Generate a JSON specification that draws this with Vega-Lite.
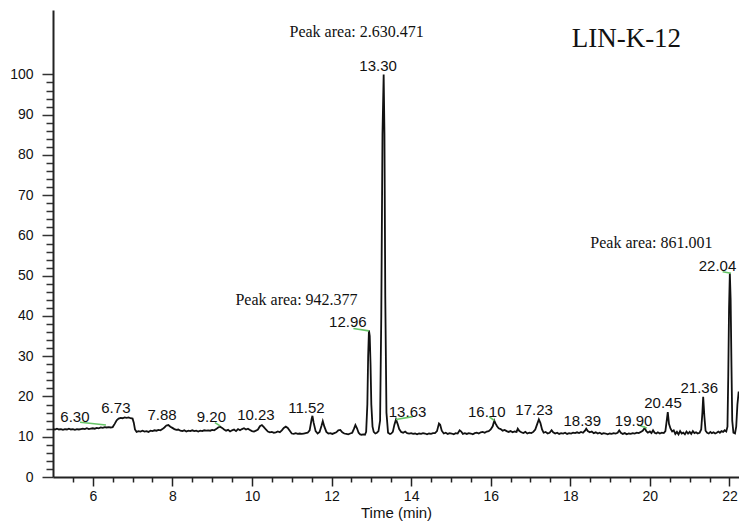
{
  "$schema": "https://vega.github.io/schema/vega-lite/v6.json",
  "width": 686,
  "height": 467,
  "autosize": {"type": "none"},
  "padding": {"left": 53, "top": 10, "right": 0, "bottom": 47},
  "background": "white",
  "config": {
    "view": {"stroke": null},
    "axis": {"grid": false, "labelFont": "Liberation Sans", "titleFont": "Liberation Sans"}
  },
  "datasets": {
    "trace": [
      {"t":5.00,"r":11.9},{"t":5.05,"r":11.8},{"t":5.10,"r":12.0},{"t":5.15,"r":11.8},{"t":5.20,"r":11.9},{"t":5.25,"r":11.7},{"t":5.30,"r":11.9},{"t":5.35,"r":11.8},{"t":5.40,"r":12.0},{"t":5.45,"r":11.8},
      {"t":5.50,"r":11.9},{"t":5.55,"r":11.7},{"t":5.60,"r":11.9},{"t":5.65,"r":11.8},{"t":5.70,"r":11.9},{"t":5.75,"r":12.0},{"t":5.80,"r":11.9},{"t":5.85,"r":12.1},{"t":5.90,"r":11.9},{"t":5.95,"r":12.0},
      {"t":6.00,"r":12.1},{"t":6.05,"r":12.0},{"t":6.10,"r":12.2},{"t":6.15,"r":12.1},{"t":6.20,"r":12.3},{"t":6.25,"r":12.2},{"t":6.30,"r":12.4},{"t":6.35,"r":12.3},{"t":6.40,"r":12.4},{"t":6.45,"r":12.3},
      {"t":6.50,"r":12.4},{"t":6.55,"r":13.2},{"t":6.60,"r":14.1},{"t":6.65,"r":14.5},{"t":6.70,"r":14.7},{"t":6.75,"r":14.6},{"t":6.80,"r":14.8},{"t":6.85,"r":14.7},{"t":6.90,"r":14.8},{"t":6.95,"r":14.6},
      {"t":7.00,"r":14.5},{"t":7.03,"r":13.5},{"t":7.06,"r":11.8},{"t":7.10,"r":11.2},{"t":7.15,"r":11.4},{"t":7.20,"r":11.3},{"t":7.25,"r":11.5},{"t":7.30,"r":11.3},{"t":7.35,"r":11.4},{"t":7.40,"r":11.2},
      {"t":7.45,"r":11.5},{"t":7.50,"r":11.4},{"t":7.55,"r":11.6},{"t":7.60,"r":11.5},{"t":7.65,"r":11.7},{"t":7.70,"r":11.6},{"t":7.75,"r":11.9},{"t":7.80,"r":12.3},{"t":7.85,"r":12.8},{"t":7.90,"r":12.9},
      {"t":7.95,"r":12.5},{"t":8.00,"r":12.2},{"t":8.05,"r":11.9},{"t":8.10,"r":11.7},{"t":8.15,"r":11.8},{"t":8.20,"r":11.5},{"t":8.25,"r":11.4},{"t":8.30,"r":11.6},{"t":8.35,"r":11.3},{"t":8.40,"r":11.5},
      {"t":8.45,"r":11.4},{"t":8.50,"r":11.6},{"t":8.55,"r":11.4},{"t":8.60,"r":11.5},{"t":8.65,"r":11.3},{"t":8.70,"r":11.5},{"t":8.75,"r":11.4},{"t":8.80,"r":11.6},{"t":8.85,"r":11.5},{"t":8.90,"r":11.6},
      {"t":8.95,"r":11.5},{"t":9.00,"r":11.7},{"t":9.05,"r":11.6},{"t":9.10,"r":11.9},{"t":9.15,"r":12.3},{"t":9.20,"r":12.5},{"t":9.25,"r":12.2},{"t":9.30,"r":11.8},{"t":9.35,"r":11.5},{"t":9.40,"r":11.7},
      {"t":9.45,"r":11.3},{"t":9.50,"r":11.6},{"t":9.55,"r":11.8},{"t":9.60,"r":11.4},{"t":9.65,"r":11.9},{"t":9.70,"r":11.6},{"t":9.75,"r":11.9},{"t":9.80,"r":12.1},{"t":9.85,"r":11.8},{"t":9.90,"r":12.0},
      {"t":9.95,"r":11.7},{"t":10.00,"r":11.4},{"t":10.05,"r":11.3},{"t":10.10,"r":11.5},{"t":10.15,"r":11.8},{"t":10.20,"r":12.6},{"t":10.25,"r":12.9},{"t":10.30,"r":12.4},{"t":10.35,"r":11.8},{"t":10.40,"r":11.3},
      {"t":10.45,"r":11.1},{"t":10.50,"r":11.2},{"t":10.55,"r":11.0},{"t":10.60,"r":11.1},{"t":10.65,"r":11.3},{"t":10.70,"r":11.1},{"t":10.75,"r":11.6},{"t":10.80,"r":12.2},{"t":10.85,"r":12.5},{"t":10.90,"r":12.2},
      {"t":10.95,"r":11.5},{"t":11.00,"r":10.8},{"t":11.05,"r":10.7},{"t":11.10,"r":10.9},{"t":11.15,"r":10.7},{"t":11.20,"r":10.8},{"t":11.25,"r":10.7},{"t":11.30,"r":10.8},{"t":11.35,"r":10.9},{"t":11.40,"r":11.0},
      {"t":11.45,"r":11.6},{"t":11.50,"r":14.4},{"t":11.52,"r":15.2},{"t":11.55,"r":13.5},{"t":11.60,"r":11.4},{"t":11.65,"r":10.8},{"t":11.70,"r":11.2},{"t":11.75,"r":12.8},{"t":11.78,"r":13.9},{"t":11.82,"r":12.5},
      {"t":11.87,"r":11.2},{"t":11.92,"r":10.8},{"t":11.97,"r":10.9},{"t":12.02,"r":10.7},{"t":12.07,"r":10.9},{"t":12.12,"r":11.1},{"t":12.17,"r":11.6},{"t":12.22,"r":11.7},{"t":12.27,"r":11.1},{"t":12.32,"r":10.8},
      {"t":12.37,"r":10.7},{"t":12.42,"r":10.6},{"t":12.47,"r":10.8},{"t":12.52,"r":11.0},{"t":12.56,"r":11.9},{"t":12.60,"r":12.9},{"t":12.64,"r":12.1},{"t":12.68,"r":11.0},{"t":12.72,"r":10.6},{"t":12.76,"r":10.5},
      {"t":12.80,"r":10.6},{"t":12.84,"r":10.5},{"t":12.87,"r":11.2},{"t":12.90,"r":18.0},{"t":12.92,"r":30.0},{"t":12.94,"r":36.4},{"t":12.96,"r":35.0},{"t":12.98,"r":28.0},{"t":13.00,"r":18.0},{"t":13.03,"r":12.5},
      {"t":13.06,"r":11.2},{"t":13.10,"r":10.8},{"t":13.14,"r":11.0},{"t":13.18,"r":11.4},{"t":13.22,"r":14.0},{"t":13.25,"r":40.0},{"t":13.28,"r":85.0},{"t":13.31,"r":100.0},{"t":13.33,"r":85.0},{"t":13.35,"r":45.0},
      {"t":13.38,"r":16.0},{"t":13.42,"r":11.0},{"t":13.47,"r":10.7},{"t":13.50,"r":10.8},{"t":13.54,"r":11.2},{"t":13.58,"r":13.0},{"t":13.62,"r":14.3},{"t":13.66,"r":13.2},{"t":13.70,"r":11.9},{"t":13.75,"r":11.2},
      {"t":13.80,"r":11.0},{"t":13.85,"r":11.3},{"t":13.90,"r":10.9},{"t":13.95,"r":10.8},{"t":14.00,"r":10.9},{"t":14.05,"r":10.7},{"t":14.10,"r":10.8},{"t":14.15,"r":10.6},{"t":14.20,"r":10.8},{"t":14.25,"r":10.7},
      {"t":14.30,"r":10.9},{"t":14.35,"r":10.8},{"t":14.40,"r":10.6},{"t":14.45,"r":10.8},{"t":14.50,"r":10.7},{"t":14.55,"r":10.9},{"t":14.60,"r":10.9},{"t":14.65,"r":11.4},{"t":14.70,"r":13.3},{"t":14.73,"r":13.0},
      {"t":14.77,"r":11.5},{"t":14.82,"r":10.8},{"t":14.87,"r":11.0},{"t":14.92,"r":10.7},{"t":14.97,"r":10.9},{"t":15.02,"r":10.8},{"t":15.07,"r":10.6},{"t":15.12,"r":10.9},{"t":15.17,"r":10.8},{"t":15.22,"r":11.6},
      {"t":15.26,"r":11.3},{"t":15.30,"r":10.7},{"t":15.35,"r":10.9},{"t":15.40,"r":10.7},{"t":15.45,"r":10.9},{"t":15.50,"r":10.8},{"t":15.55,"r":10.6},{"t":15.60,"r":10.9},{"t":15.65,"r":11.0},{"t":15.70,"r":10.8},
      {"t":15.75,"r":11.1},{"t":15.80,"r":11.2},{"t":15.85,"r":11.0},{"t":15.90,"r":11.3},{"t":15.95,"r":11.4},{"t":16.00,"r":11.8},{"t":16.05,"r":12.6},{"t":16.09,"r":14.0},{"t":16.12,"r":13.3},{"t":16.16,"r":12.6},
      {"t":16.20,"r":12.1},{"t":16.25,"r":11.9},{"t":16.30,"r":11.5},{"t":16.35,"r":11.7},{"t":16.40,"r":11.4},{"t":16.45,"r":11.2},{"t":16.50,"r":11.4},{"t":16.55,"r":11.1},{"t":16.60,"r":11.3},{"t":16.65,"r":11.2},
      {"t":16.68,"r":12.0},{"t":16.72,"r":11.4},{"t":16.77,"r":11.1},{"t":16.82,"r":10.9},{"t":16.87,"r":11.2},{"t":16.92,"r":10.8},{"t":16.97,"r":11.0},{"t":17.02,"r":10.9},{"t":17.07,"r":11.2},{"t":17.12,"r":11.8},
      {"t":17.17,"r":13.2},{"t":17.21,"r":14.3},{"t":17.25,"r":13.4},{"t":17.29,"r":11.8},{"t":17.33,"r":11.0},{"t":17.38,"r":11.2},{"t":17.43,"r":10.8},{"t":17.48,"r":11.0},{"t":17.53,"r":11.6},{"t":17.57,"r":11.1},
      {"t":17.62,"r":10.8},{"t":17.67,"r":11.0},{"t":17.72,"r":10.7},{"t":17.77,"r":10.9},{"t":17.82,"r":10.8},{"t":17.87,"r":11.0},{"t":17.92,"r":10.7},{"t":17.97,"r":10.9},{"t":18.02,"r":10.8},{"t":18.07,"r":11.0},
      {"t":18.12,"r":10.9},{"t":18.17,"r":11.1},{"t":18.22,"r":10.9},{"t":18.27,"r":11.2},{"t":18.32,"r":11.0},{"t":18.37,"r":11.5},{"t":18.40,"r":12.0},{"t":18.44,"r":11.4},{"t":18.49,"r":11.1},{"t":18.54,"r":11.3},
      {"t":18.59,"r":10.9},{"t":18.64,"r":11.1},{"t":18.69,"r":10.8},{"t":18.74,"r":11.0},{"t":18.79,"r":10.7},{"t":18.84,"r":10.9},{"t":18.89,"r":10.8},{"t":18.94,"r":10.6},{"t":18.99,"r":10.8},{"t":19.04,"r":10.7},
      {"t":19.09,"r":10.9},{"t":19.14,"r":10.8},{"t":19.19,"r":11.0},{"t":19.23,"r":11.6},{"t":19.27,"r":11.0},{"t":19.32,"r":10.7},{"t":19.37,"r":10.9},{"t":19.42,"r":10.6},{"t":19.47,"r":10.8},{"t":19.52,"r":10.7},
      {"t":19.57,"r":10.9},{"t":19.62,"r":10.8},{"t":19.67,"r":11.0},{"t":19.72,"r":10.9},{"t":19.77,"r":11.2},{"t":19.82,"r":11.5},{"t":19.87,"r":12.2},{"t":19.91,"r":11.4},{"t":19.95,"r":11.0},{"t":20.00,"r":11.3},
      {"t":20.04,"r":10.9},{"t":20.08,"r":11.6},{"t":20.12,"r":11.0},{"t":20.16,"r":10.8},{"t":20.20,"r":11.1},{"t":20.25,"r":10.8},{"t":20.30,"r":11.0},{"t":20.35,"r":10.9},{"t":20.39,"r":11.4},{"t":20.43,"r":14.5},
      {"t":20.45,"r":16.1},{"t":20.48,"r":13.2},{"t":20.52,"r":12.0},{"t":20.56,"r":11.3},{"t":20.60,"r":11.6},{"t":20.64,"r":10.7},{"t":20.68,"r":11.2},{"t":20.72,"r":10.6},{"t":20.76,"r":11.4},{"t":20.80,"r":10.8},
      {"t":20.84,"r":11.0},{"t":20.88,"r":10.6},{"t":20.92,"r":11.3},{"t":20.96,"r":10.8},{"t":21.00,"r":11.2},{"t":21.04,"r":10.7},{"t":21.08,"r":11.4},{"t":21.12,"r":10.9},{"t":21.16,"r":11.1},{"t":21.20,"r":10.8},
      {"t":21.25,"r":11.0},{"t":21.29,"r":11.8},{"t":21.32,"r":16.0},{"t":21.34,"r":19.9},{"t":21.37,"r":15.0},{"t":21.40,"r":11.5},{"t":21.44,"r":11.0},{"t":21.48,"r":10.8},{"t":21.52,"r":11.2},{"t":21.56,"r":10.9},
      {"t":21.60,"r":11.1},{"t":21.64,"r":10.8},{"t":21.68,"r":11.0},{"t":21.72,"r":11.3},{"t":21.76,"r":11.0},{"t":21.80,"r":11.4},{"t":21.84,"r":11.2},{"t":21.88,"r":11.6},{"t":21.92,"r":11.3},{"t":21.95,"r":12.5},
      {"t":21.97,"r":25.0},{"t":21.99,"r":42.0},{"t":22.01,"r":50.6},{"t":22.03,"r":44.0},{"t":22.05,"r":28.0},{"t":22.07,"r":14.0},{"t":22.10,"r":11.0},{"t":22.14,"r":10.8},{"t":22.17,"r":12.5},{"t":22.20,"r":18.0},
      {"t":22.23,"r":21.0},{"t":22.25,"r":21.0}
    ],
    "baselines": [
      {"t":5.68,"r":13.6,"t2":6.33,"r2":12.9},
      {"t":9.07,"r":13.5,"t2":9.20,"r2":12.7},
      {"t":12.55,"r":36.9,"t2":12.94,"r2":36.3},
      {"t":13.62,"r":14.3,"t2":14.04,"r2":15.0},
      {"t":15.96,"r":15.0,"t2":16.09,"r2":14.0},
      {"t":19.71,"r":12.9,"t2":19.92,"r2":12.2},
      {"t":21.83,"r":51.0,"t2":22.04,"r2":50.6}
    ],
    "peaks": [
      {"t":5.55,"r":15.0,"label":"6.30"},
      {"t":6.58,"r":17.2,"label":"6.73"},
      {"t":7.74,"r":15.4,"label":"7.88"},
      {"t":8.98,"r":15.0,"label":"9.20"},
      {"t":10.10,"r":15.4,"label":"10.23"},
      {"t":11.37,"r":17.1,"label":"11.52"},
      {"t":12.41,"r":38.4,"label":"12.96"},
      {"t":13.17,"r":102.1,"label":"13.30"},
      {"t":13.91,"r":16.2,"label":"13.63"},
      {"t":15.90,"r":16.2,"label":"16.10"},
      {"t":17.09,"r":16.6,"label":"17.23"},
      {"t":18.30,"r":14.0,"label":"18.39"},
      {"t":19.59,"r":14.0,"label":"19.90"},
      {"t":20.33,"r":18.3,"label":"20.45"},
      {"t":21.24,"r":22.0,"label":"21.36"},
      {"t":21.70,"r":52.4,"label":"22.04"}
    ],
    "areas": [
      {"t":12.63,"r":110.5,"label":"Peak area: 2.630.471"},
      {"t":11.12,"r":44.0,"label":"Peak area: 942.377"},
      {"t":20.04,"r":58.2,"label":"Peak area: 861.001"}
    ],
    "sample": [
      {"t":19.41,"r":108.8,"label":"LIN-K-12"}
    ]
  },
  "layer": [
    {
      "data": {"name": "trace"},
      "mark": {"type": "line", "color": "#111111", "strokeWidth": 1.8, "clip": true, "interpolate": "linear"},
      "encoding": {
        "x": {
          "field": "t", "type": "quantitative",
          "scale": {"domain": [5, 22.24], "nice": false, "zero": false},
          "axis": {
            "title": "Time (min)",
            "titleFontSize": 15, "titleFontWeight": "normal", "titleColor": "#111", "titlePadding": 2,
            "values": [5.5,6,6.5,7,7.5,8,8.5,9,9.5,10,10.5,11,11.5,12,12.5,13,13.5,14,14.5,15,15.5,16,16.5,17,17.5,18,18.5,19,19.5,20,20.5,21,21.5,22],
            "tickCount": 200,
            "format": ".0f",
            "labelExpr": "datum.value % 2 === 0 ? datum.label : ''",
            "labelOverlap": false, "labelFontSize": 14, "labelColor": "#111", "labelPadding": 3,
            "tickSize": {"condition": {"test": "datum.value % 2 === 0", "value": 9}, "value": 5},
            "tickWidth": 1.5,
            "tickColor": "#222",
            "domainColor": "#222", "domainWidth": 2
          }
        },
        "y": {
          "field": "r", "type": "quantitative",
          "scale": {"domain": [0, 116], "nice": false},
          "axis": {
            "title": null,
            "values": [0,2,4,6,8,10,12,14,16,18,20,22,24,26,28,30,32,34,36,38,40,42,44,46,48,50,52,54,56,58,60,62,64,66,68,70,72,74,76,78,80,82,84,86,88,90,92,94,96,98,100],
            "tickCount": 200,
            "format": "d",
            "labelExpr": "datum.value % 10 === 0 ? datum.label : ''",
            "labelOverlap": false, "labelFontSize": 14, "labelColor": "#111", "labelPadding": 9,
            "tickSize": {"condition": {"test": "datum.value % 10 === 0", "value": 11}, "value": 7},
            "tickWidth": 1.5,
            "tickColor": "#333",
            "domainColor": "#222", "domainWidth": 2
          }
        }
      }
    },
    {
      "data": {"name": "baselines"},
      "mark": {"type": "rule", "color": "#66c466", "strokeWidth": 1.6},
      "encoding": {
        "x": {"field": "t", "type": "quantitative"},
        "y": {"field": "r", "type": "quantitative"},
        "x2": {"field": "t2"},
        "y2": {"field": "r2"}
      }
    },
    {
      "data": {"name": "peaks"},
      "mark": {"type": "text", "font": "Liberation Sans", "fontSize": 15, "color": "#111", "align": "center", "baseline": "middle"},
      "encoding": {
        "x": {"field": "t", "type": "quantitative"},
        "y": {"field": "r", "type": "quantitative"},
        "text": {"field": "label"}
      }
    },
    {
      "data": {"name": "areas"},
      "mark": {"type": "text", "font": "Liberation Serif", "fontSize": 16, "color": "#111", "align": "center", "baseline": "middle"},
      "encoding": {
        "x": {"field": "t", "type": "quantitative"},
        "y": {"field": "r", "type": "quantitative"},
        "text": {"field": "label"}
      }
    },
    {
      "data": {"name": "sample"},
      "mark": {"type": "text", "font": "Liberation Serif", "fontSize": 27, "color": "#111", "align": "center", "baseline": "middle"},
      "encoding": {
        "x": {"field": "t", "type": "quantitative"},
        "y": {"field": "r", "type": "quantitative"},
        "text": {"field": "label"}
      }
    }
  ]
}
